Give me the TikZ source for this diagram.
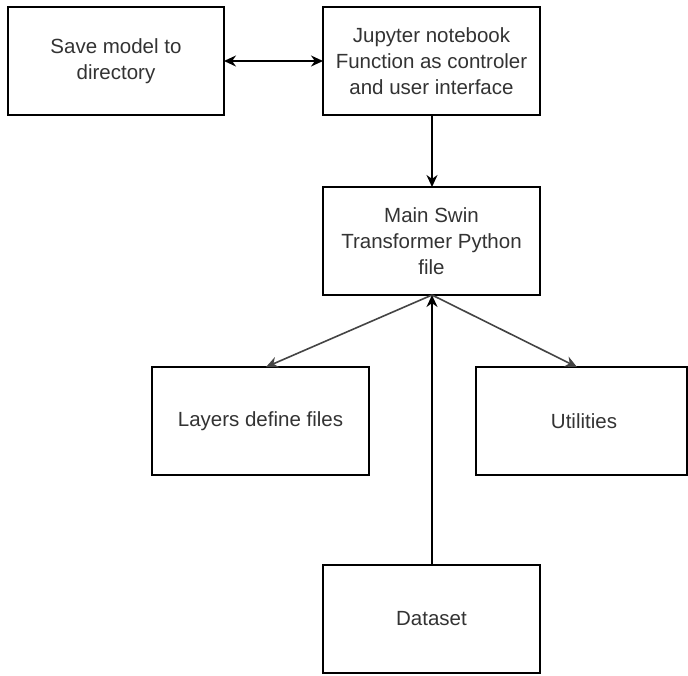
\documentclass[tikz,border=0pt]{standalone}
\usepackage{fontspec}
\setmainfont{Liberation Sans}
\usetikzlibrary{arrows.meta}
\definecolor{txt}{HTML}{333333}
\definecolor{lnk}{HTML}{444444}
\begin{document}
\begin{tikzpicture}[x=1pt,y=-1pt,
  box/.style={draw=black,line width=1.6pt,fill=white},
  lbl/.style={text=txt,align=center,font=\fontsize{20.5}{26}\selectfont},
  conn/.style={line width=1.6pt,-{Stealth[length=12pt,width=11pt]}},
  gconn/.style={conn,draw=lnk}]
\useasboundingbox (0,0) rectangle (688,675);
\fill[white] (0,0) rectangle (688,675);
\draw[box] (8,7) rectangle (224,115);
\node[lbl] (save) at (116,61) {Save model to\\directory};
\coordinate (saveR) at (224,61);
\draw[box] (323,7) rectangle (540,115);
\node[lbl] (jup) at (431.5,61) {Jupyter notebook\\Function as controler\\and user interface};
\coordinate (jupL) at (323,61);
\coordinate (jupB) at (432,115);
\draw[box] (323,187) rectangle (540,295);
\node[lbl] (main) at (431.5,241) {Main Swin\\Transformer Python\\file};
\coordinate (mainT) at (432,187);
\coordinate (mainB) at (432,295);
\draw[box] (152,367) rectangle (369,475);
\node[lbl] (lay) at (260.5,421) {Layers define files};
\coordinate (layT) at (266,367);
\draw[box] (476,367) rectangle (687,475);
\node[lbl] (util) at (584,421) {Utilities};
\coordinate (utilT) at (577,367);
\draw[box] (323,565) rectangle (540,673);
\node[lbl] (data) at (431.5,619) {Dataset};
\coordinate (dataT) at (432,565);
\draw[conn,{Stealth[length=12pt,width=11pt]}-{Stealth[length=12pt,width=11pt]}] (saveR) -- (jupL);
\draw[conn] (jupB) -- (mainT);
\draw[gconn] (mainB) -- (layT);
\draw[gconn] (mainB) -- (utilT);
\draw[conn] (dataT) -- (mainB);
\end{tikzpicture}
\end{document}
